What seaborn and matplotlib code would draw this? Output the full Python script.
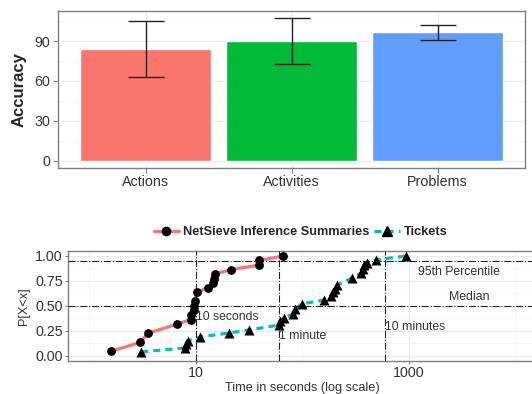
import numpy as np
import pandas as pd
import matplotlib
matplotlib.use('Agg')
import matplotlib.pyplot as plt
from matplotlib.lines import Line2D
from matplotlib.ticker import FixedLocator, NullFormatter
import seaborn as sns

# top panel data
categories = ['Actions', 'Activities', 'Problems']
accuracy = [83.8, 89.8, 96.6]
accuracy_err = [21.0, 17.4, 5.6]
bar_colors = ['#F8766D', '#00BA38', '#619CFF']

# bottom panel data (CDF of time to result)
netsieve_time = [1.6, 3.0, 3.55, 6.7, 9.0, 9.0, 9.6, 9.7, 9.8, 10.2, 12.9, 14.6,
                 14.8, 15.0, 21.4, 39.6, 39.6, 66.5]
netsieve_p = [0.045, 0.136, 0.227, 0.318, 0.364, 0.409, 0.455, 0.5, 0.545, 0.636,
              0.682, 0.727, 0.773, 0.818, 0.864, 0.909, 0.955, 1.0]
tickets_time = [3.07, 7.9, 8.1, 8.4, 11.0, 20.6, 31.8, 61.0, 61.5, 68.0, 82.0, 85.0,
                100.0, 160.0, 185.0, 195.0, 205.0, 214.0, 296.0, 360.0, 370.0,
                380.0, 408.0, 490.0, 955.0]
tickets_p = [0.04, 0.08, 0.115, 0.15, 0.19, 0.23, 0.26, 0.31, 0.35, 0.38, 0.42, 0.47,
             0.52, 0.56, 0.6, 0.635, 0.67, 0.71, 0.78, 0.83, 0.87, 0.91, 0.93, 0.96,
             1.0]
series_names = ['NetSieve Inference Summaries', 'Tickets']
series_colors = ['#F8766D', '#00BFC4']

ref_times = [10, 60, 600]
ref_probs = [0.5, 0.95]

sns.set_theme(style='white')
plt.rcParams['font.family'] = ['Liberation Sans', 'DejaVu Sans']

fig = plt.figure(figsize=(5.32, 3.94), dpi=100)
ax1 = fig.add_axes([0.109, 0.574, 0.878, 0.399])
ax2 = fig.add_axes([0.128, 0.084, 0.88, 0.279])

tick_col = '#333333'
border_col = '#7f7f7f'
major_grid = '#ebebeb'
minor_grid = '#f5f5f5'


def style_axes(ax, tick_len=3.5, tick_pad=2):
    for s in ax.spines.values():
        s.set_color(border_col)
        s.set_linewidth(1.0)
    ax.tick_params(axis='both', which='major', length=tick_len, width=0.8,
                   color=border_col, labelsize=10.3, labelcolor=tick_col,
                   left=True, bottom=True, pad=tick_pad)
    ax.tick_params(axis='both', which='minor', length=0)
    ax.grid(True, which='major', color=major_grid, linewidth=0.9, zorder=0)
    ax.grid(True, which='minor', color=minor_grid, linewidth=0.6, zorder=0)
    ax.set_axisbelow(True)


# ---- top: bar chart with error bars
sns.barplot(x=categories, y=accuracy, hue=categories, palette=bar_colors,
            width=0.9, legend=False, saturation=1, ax=ax1)
ax1.errorbar(np.arange(len(categories)), accuracy, yerr=accuracy_err, fmt='none',
             ecolor='#222222', elinewidth=1.0, capsize=13.3, capthick=1.0,
             zorder=3)
ax1.set_xlim(-0.6, 2.6)
ax1.set_ylim(-5.4, 112.9)
ax1.set_yticks([0, 30, 60, 90])
ax1.yaxis.set_minor_locator(FixedLocator([15, 45, 75, 105]))
ax1.set_ylabel('Accuracy', fontsize=12, fontweight='bold', labelpad=6)
ax1.set_xlabel('')
style_axes(ax1)

# ---- bottom: CDF lines
cdf = pd.concat([
    pd.DataFrame({'time': netsieve_time, 'p': netsieve_p,
                  'source': series_names[0]}),
    pd.DataFrame({'time': tickets_time, 'p': tickets_p,
                  'source': series_names[1]}),
])
sns.lineplot(data=cdf, x='time', y='p', hue='source', style='source',
             palette=dict(zip(series_names, series_colors)),
             dashes={series_names[0]: '', series_names[1]: (2.2, 1.6)},
             estimator=None, sort=True, linewidth=2.3, legend=False, ax=ax2,
             zorder=2)
ax2.scatter(netsieve_time, netsieve_p, marker='o', s=40, color='black',
            zorder=4, linewidths=0)
ax2.scatter(tickets_time, tickets_p, marker='^', s=52, color='black',
            zorder=4, linewidths=0)

for t in ref_times:
    ax2.axvline(t, color='#222222', linestyle='-.', linewidth=0.8, zorder=3)
for p in ref_probs:
    ax2.axhline(p, color='#222222', linestyle='-.', linewidth=0.8, zorder=3)

ax2.set_xscale('log')
ax2.set_xlim(10 ** -0.2, 10 ** 4.2)
ax2.set_ylim(-0.05, 1.05)
ax2.xaxis.set_major_locator(FixedLocator([10, 1000]))
ax2.set_xticklabels(['10', '1000'])
ax2.xaxis.set_minor_locator(FixedLocator([1, 100, 10000]))
ax2.xaxis.set_minor_formatter(NullFormatter())
ax2.set_yticks([0, 0.25, 0.5, 0.75, 1.0])
ax2.set_yticklabels(['0.00', '0.25', '0.50', '0.75', '1.00'])
ax2.yaxis.set_minor_locator(FixedLocator([0.125, 0.375, 0.625, 0.875]))
ax2.set_xlabel('Time in seconds (log scale)', fontsize=9.2, color=tick_col,
               labelpad=1.5)
ax2.set_ylabel('P[X<x]', fontsize=9.2, color=tick_col, labelpad=4)
style_axes(ax2, tick_len=2.2, tick_pad=1.5)

txt_kw = dict(fontsize=8.8, color=tick_col, zorder=5)
ax2.text(10, 0.39, '10 seconds', ha='left', va='center', **txt_kw)
ax2.text(60, 0.2, '1 minute', ha='left', va='center', **txt_kw)
ax2.text(600, 0.29, '10 minutes', ha='left', va='center', **txt_kw)
ax2.text(3000, 0.84, '95th Percentile', ha='center', va='center', **txt_kw)
ax2.text(3700, 0.59, 'Median', ha='center', va='center', **txt_kw)

handles = [
    Line2D([], [], color=series_colors[0], linewidth=2.3, marker='o',
           markerfacecolor='black', markeredgecolor='black', markersize=6),
    Line2D([], [], color=series_colors[1], linewidth=2.3, linestyle=(0, (2.2, 1.6)),
           marker='^', markerfacecolor='black', markeredgecolor='black',
           markersize=7),
]
fig.legend(handles, series_names, loc='center', bbox_to_anchor=(0.565, 0.41),
           ncol=2, frameon=False, handlelength=2.0, handletextpad=0.3,
           columnspacing=0.4, prop={'weight': 'bold', 'size': 9.2})

fig.savefig('out.png', dpi=100)
